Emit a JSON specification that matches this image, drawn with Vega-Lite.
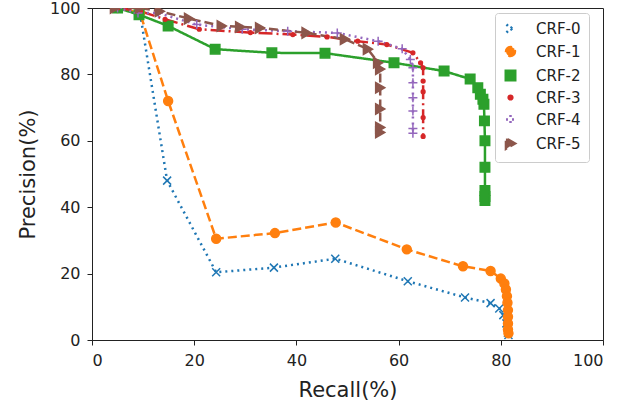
{
  "$schema": "https://vega.github.io/schema/vega-lite/v6.json",
  "width": 511,
  "height": 332,
  "autosize": {"type": "none"},
  "padding": {"left": 92, "top": 8, "right": 31, "bottom": 62},
  "background": "white",
  "config": {
    "view": {"stroke": "#222", "strokeWidth": 1},
    "font": "DejaVu Sans",
    "axis": {
      "grid": false,
      "labelFont": "DejaVu Sans",
      "labelFontSize": 16,
      "labelColor": "#222",
      "tickColor": "#222",
      "domainColor": "#222",
      "tickSize": 5,
      "labelPadding": 7,
      "titleFont": "DejaVu Sans",
      "titleFontSize": 21,
      "titleFontWeight": "normal",
      "titleColor": "#222"
    }
  },
  "data": {
    "values": [
      {"s": "CRF-0", "i": 0, "x": 5, "y": 100},
      {"s": "CRF-0", "i": 1, "x": 9.4, "y": 98.5},
      {"s": "CRF-0", "i": 2, "x": 14.7, "y": 48},
      {"s": "CRF-0", "i": 3, "x": 24.3, "y": 20.4},
      {"s": "CRF-0", "i": 4, "x": 35.6, "y": 21.8},
      {"s": "CRF-0", "i": 5, "x": 47.6, "y": 24.5},
      {"s": "CRF-0", "i": 6, "x": 61.8, "y": 17.7},
      {"s": "CRF-0", "i": 7, "x": 73, "y": 12.8},
      {"s": "CRF-0", "i": 8, "x": 78, "y": 11.1},
      {"s": "CRF-0", "i": 9, "x": 79.7, "y": 9.5},
      {"s": "CRF-0", "i": 10, "x": 80.5, "y": 7.5},
      {"s": "CRF-0", "i": 11, "x": 81.1, "y": 5},
      {"s": "CRF-0", "i": 12, "x": 81.4, "y": 2.2},
      {"s": "CRF-0", "i": 13, "x": 81.5, "y": 1.5},

      {"s": "CRF-1", "i": 0, "x": 5, "y": 100},
      {"s": "CRF-1", "i": 1, "x": 9.4, "y": 98.5},
      {"s": "CRF-1", "i": 2, "x": 14.9, "y": 72},
      {"s": "CRF-1", "i": 3, "x": 24.3, "y": 30.5},
      {"s": "CRF-1", "i": 4, "x": 35.8, "y": 32.2},
      {"s": "CRF-1", "i": 5, "x": 47.7, "y": 35.4},
      {"s": "CRF-1", "i": 6, "x": 61.6, "y": 27.3},
      {"s": "CRF-1", "i": 7, "x": 72.6, "y": 22.2},
      {"s": "CRF-1", "i": 8, "x": 78, "y": 20.8},
      {"s": "CRF-1", "i": 9, "x": 80, "y": 18.5},
      {"s": "CRF-1", "i": 10, "x": 80.7, "y": 17},
      {"s": "CRF-1", "i": 11, "x": 81, "y": 15.2},
      {"s": "CRF-1", "i": 12, "x": 81.2, "y": 13.2},
      {"s": "CRF-1", "i": 13, "x": 81.3, "y": 11.2},
      {"s": "CRF-1", "i": 14, "x": 81.4, "y": 9},
      {"s": "CRF-1", "i": 15, "x": 81.4, "y": 7},
      {"s": "CRF-1", "i": 16, "x": 81.4, "y": 5},
      {"s": "CRF-1", "i": 17, "x": 81.4, "y": 3.2},
      {"s": "CRF-1", "i": 18, "x": 81.5, "y": 2},

      {"s": "CRF-2", "i": 0, "x": 5, "y": 100},
      {"s": "CRF-2", "i": 1, "x": 9.2, "y": 98},
      {"s": "CRF-2", "i": 2, "x": 14.9, "y": 94.6},
      {"s": "CRF-2", "i": 3, "x": 24.1, "y": 87.6},
      {"s": "CRF-2", "i": 4, "x": 35.2, "y": 86.5},
      {"s": "CRF-2", "i": 5, "x": 45.6, "y": 86.4},
      {"s": "CRF-2", "i": 6, "x": 59.1, "y": 83.5},
      {"s": "CRF-2", "i": 7, "x": 68.9, "y": 81},
      {"s": "CRF-2", "i": 8, "x": 74, "y": 78.6},
      {"s": "CRF-2", "i": 9, "x": 75.5, "y": 76},
      {"s": "CRF-2", "i": 10, "x": 76, "y": 74},
      {"s": "CRF-2", "i": 11, "x": 76.5, "y": 72.5},
      {"s": "CRF-2", "i": 12, "x": 76.7, "y": 71},
      {"s": "CRF-2", "i": 13, "x": 76.8, "y": 66},
      {"s": "CRF-2", "i": 14, "x": 76.9, "y": 60},
      {"s": "CRF-2", "i": 15, "x": 76.9, "y": 52},
      {"s": "CRF-2", "i": 16, "x": 76.9, "y": 45},
      {"s": "CRF-2", "i": 17, "x": 76.9, "y": 43.2},
      {"s": "CRF-2", "i": 18, "x": 76.9, "y": 42},

      {"s": "CRF-3", "i": 0, "x": 5, "y": 100},
      {"s": "CRF-3", "i": 1, "x": 9.5, "y": 99},
      {"s": "CRF-3", "i": 2, "x": 14.3, "y": 96.6},
      {"s": "CRF-3", "i": 3, "x": 21, "y": 93.6},
      {"s": "CRF-3", "i": 4, "x": 31, "y": 92.6},
      {"s": "CRF-3", "i": 5, "x": 39.3, "y": 92},
      {"s": "CRF-3", "i": 6, "x": 46, "y": 91.3},
      {"s": "CRF-3", "i": 7, "x": 52, "y": 90},
      {"s": "CRF-3", "i": 8, "x": 57.7, "y": 89},
      {"s": "CRF-3", "i": 9, "x": 62.8, "y": 86.5},
      {"s": "CRF-3", "i": 10, "x": 64.3, "y": 83.5},
      {"s": "CRF-3", "i": 11, "x": 64.8, "y": 82},
      {"s": "CRF-3", "i": 12, "x": 64.8, "y": 78},
      {"s": "CRF-3", "i": 13, "x": 64.8, "y": 74.8},
      {"s": "CRF-3", "i": 14, "x": 64.8, "y": 67},
      {"s": "CRF-3", "i": 15, "x": 64.8, "y": 61.3},

      {"s": "CRF-4", "i": 0, "x": 5, "y": 100},
      {"s": "CRF-4", "i": 1, "x": 9, "y": 98.5},
      {"s": "CRF-4", "i": 2, "x": 13, "y": 98.5},
      {"s": "CRF-4", "i": 3, "x": 20.5, "y": 95},
      {"s": "CRF-4", "i": 4, "x": 29.4, "y": 93.6},
      {"s": "CRF-4", "i": 5, "x": 38.3, "y": 93},
      {"s": "CRF-4", "i": 6, "x": 48, "y": 92.5},
      {"s": "CRF-4", "i": 7, "x": 56, "y": 90},
      {"s": "CRF-4", "i": 8, "x": 60.7, "y": 87.7},
      {"s": "CRF-4", "i": 9, "x": 62.3, "y": 84.5},
      {"s": "CRF-4", "i": 10, "x": 62.8, "y": 82},
      {"s": "CRF-4", "i": 11, "x": 62.8, "y": 77.5},
      {"s": "CRF-4", "i": 12, "x": 62.8, "y": 73},
      {"s": "CRF-4", "i": 13, "x": 62.8, "y": 69},
      {"s": "CRF-4", "i": 14, "x": 62.8, "y": 63.7},
      {"s": "CRF-4", "i": 15, "x": 62.8, "y": 62.3},

      {"s": "CRF-5", "i": 0, "x": 4.5, "y": 100},
      {"s": "CRF-5", "i": 1, "x": 9.4, "y": 100},
      {"s": "CRF-5", "i": 2, "x": 13.3, "y": 99},
      {"s": "CRF-5", "i": 3, "x": 19, "y": 96.8},
      {"s": "CRF-5", "i": 4, "x": 25.4, "y": 94.6},
      {"s": "CRF-5", "i": 5, "x": 29, "y": 94.3},
      {"s": "CRF-5", "i": 6, "x": 32.9, "y": 94},
      {"s": "CRF-5", "i": 7, "x": 42, "y": 92.5},
      {"s": "CRF-5", "i": 8, "x": 49.5, "y": 90.6},
      {"s": "CRF-5", "i": 9, "x": 54, "y": 87.6},
      {"s": "CRF-5", "i": 10, "x": 56, "y": 83.5},
      {"s": "CRF-5", "i": 11, "x": 56.4, "y": 81.6},
      {"s": "CRF-5", "i": 12, "x": 56.4, "y": 76},
      {"s": "CRF-5", "i": 13, "x": 56.4, "y": 69.6},
      {"s": "CRF-5", "i": 14, "x": 56.4, "y": 64},
      {"s": "CRF-5", "i": 15, "x": 56.4, "y": 62.5}
    ]
  },
  "encoding": {
    "x": {
      "field": "x", "type": "quantitative",
      "scale": {"domain": [0, 100], "nice": false, "zero": false},
      "axis": {"title": "Recall(%)", "values": [0, 20, 40, 60, 80, 100], "titlePadding": 11}
    },
    "y": {
      "field": "y", "type": "quantitative",
      "scale": {"domain": [0, 100], "nice": false, "zero": false},
      "axis": {"title": "Precision(%)", "values": [0, 20, 40, 60, 80, 100], "titlePadding": 11}
    }
  },
  "layer": [
    {
      "mark": {"type": "line", "strokeWidth": 2.5, "clip": true},
      "encoding": {
        "color": {
          "field": "s", "type": "nominal",
          "scale": {
            "domain": ["CRF-0", "CRF-1", "CRF-2", "CRF-3", "CRF-4", "CRF-5"],
            "range": ["#1f77b4", "#ff7f0e", "#2ca02c", "#d62728", "#9467bd", "#8c564b"]
          },
          "legend": {
            "title": null,
            "orient": "none",
            "legendX": 403,
            "legendY": 5,
            "padding": 8,
            "fillColor": "white",
            "strokeColor": "#cccccc",
            "cornerRadius": 3,
            "labelFont": "DejaVu Sans",
            "labelFontSize": 15,
            "labelColor": "#222",
            "labelOffset": 18,
            "rowPadding": 4,
            "symbolSize": 784,
            "symbolStrokeWidth": 2.5
          }
        },
        "strokeDash": {
          "field": "s", "type": "nominal", "legend": null,
          "scale": {
            "domain": ["CRF-0", "CRF-1", "CRF-2", "CRF-3", "CRF-4", "CRF-5"],
            "range": [[2, 4], [9, 4], [1, 0], [14, 4, 2, 4], [2, 4], [9, 4]]
          }
        },
        "order": {"field": "i", "type": "quantitative"}
      }
    },
    {
      "mark": {"type": "point", "filled": true, "opacity": 1, "strokeWidth": 1.5, "clip": true},
      "encoding": {
        "color": {"field": "s", "type": "nominal", "legend": null},
        "shape": {
          "field": "s", "type": "nominal", "legend": null,
          "scale": {
            "domain": ["CRF-0", "CRF-1", "CRF-2", "CRF-3", "CRF-4", "CRF-5"],
            "range": ["M-1,-1L1,1M-1,1L1,-1", "circle", "square", "circle", "M-1,0L1,0M0,-1L0,1", "triangle-right"]
          }
        },
        "size": {
          "field": "s", "type": "nominal", "legend": null,
          "scale": {
            "type": "ordinal",
            "domain": ["CRF-0", "CRF-1", "CRF-2", "CRF-3", "CRF-4", "CRF-5"],
            "range": [64, 80, 90, 14, 81, 110]
          }
        },
        "stroke": {
          "field": "s", "type": "nominal", "legend": null,
          "scale": {
            "domain": ["CRF-0", "CRF-1", "CRF-2", "CRF-3", "CRF-4", "CRF-5"],
            "range": ["#1f77b4", "#ff7f0e", "#2ca02c", "#d62728", "#9467bd", "#8c564b"]
          }
        }
      }
    }
  ]
}
